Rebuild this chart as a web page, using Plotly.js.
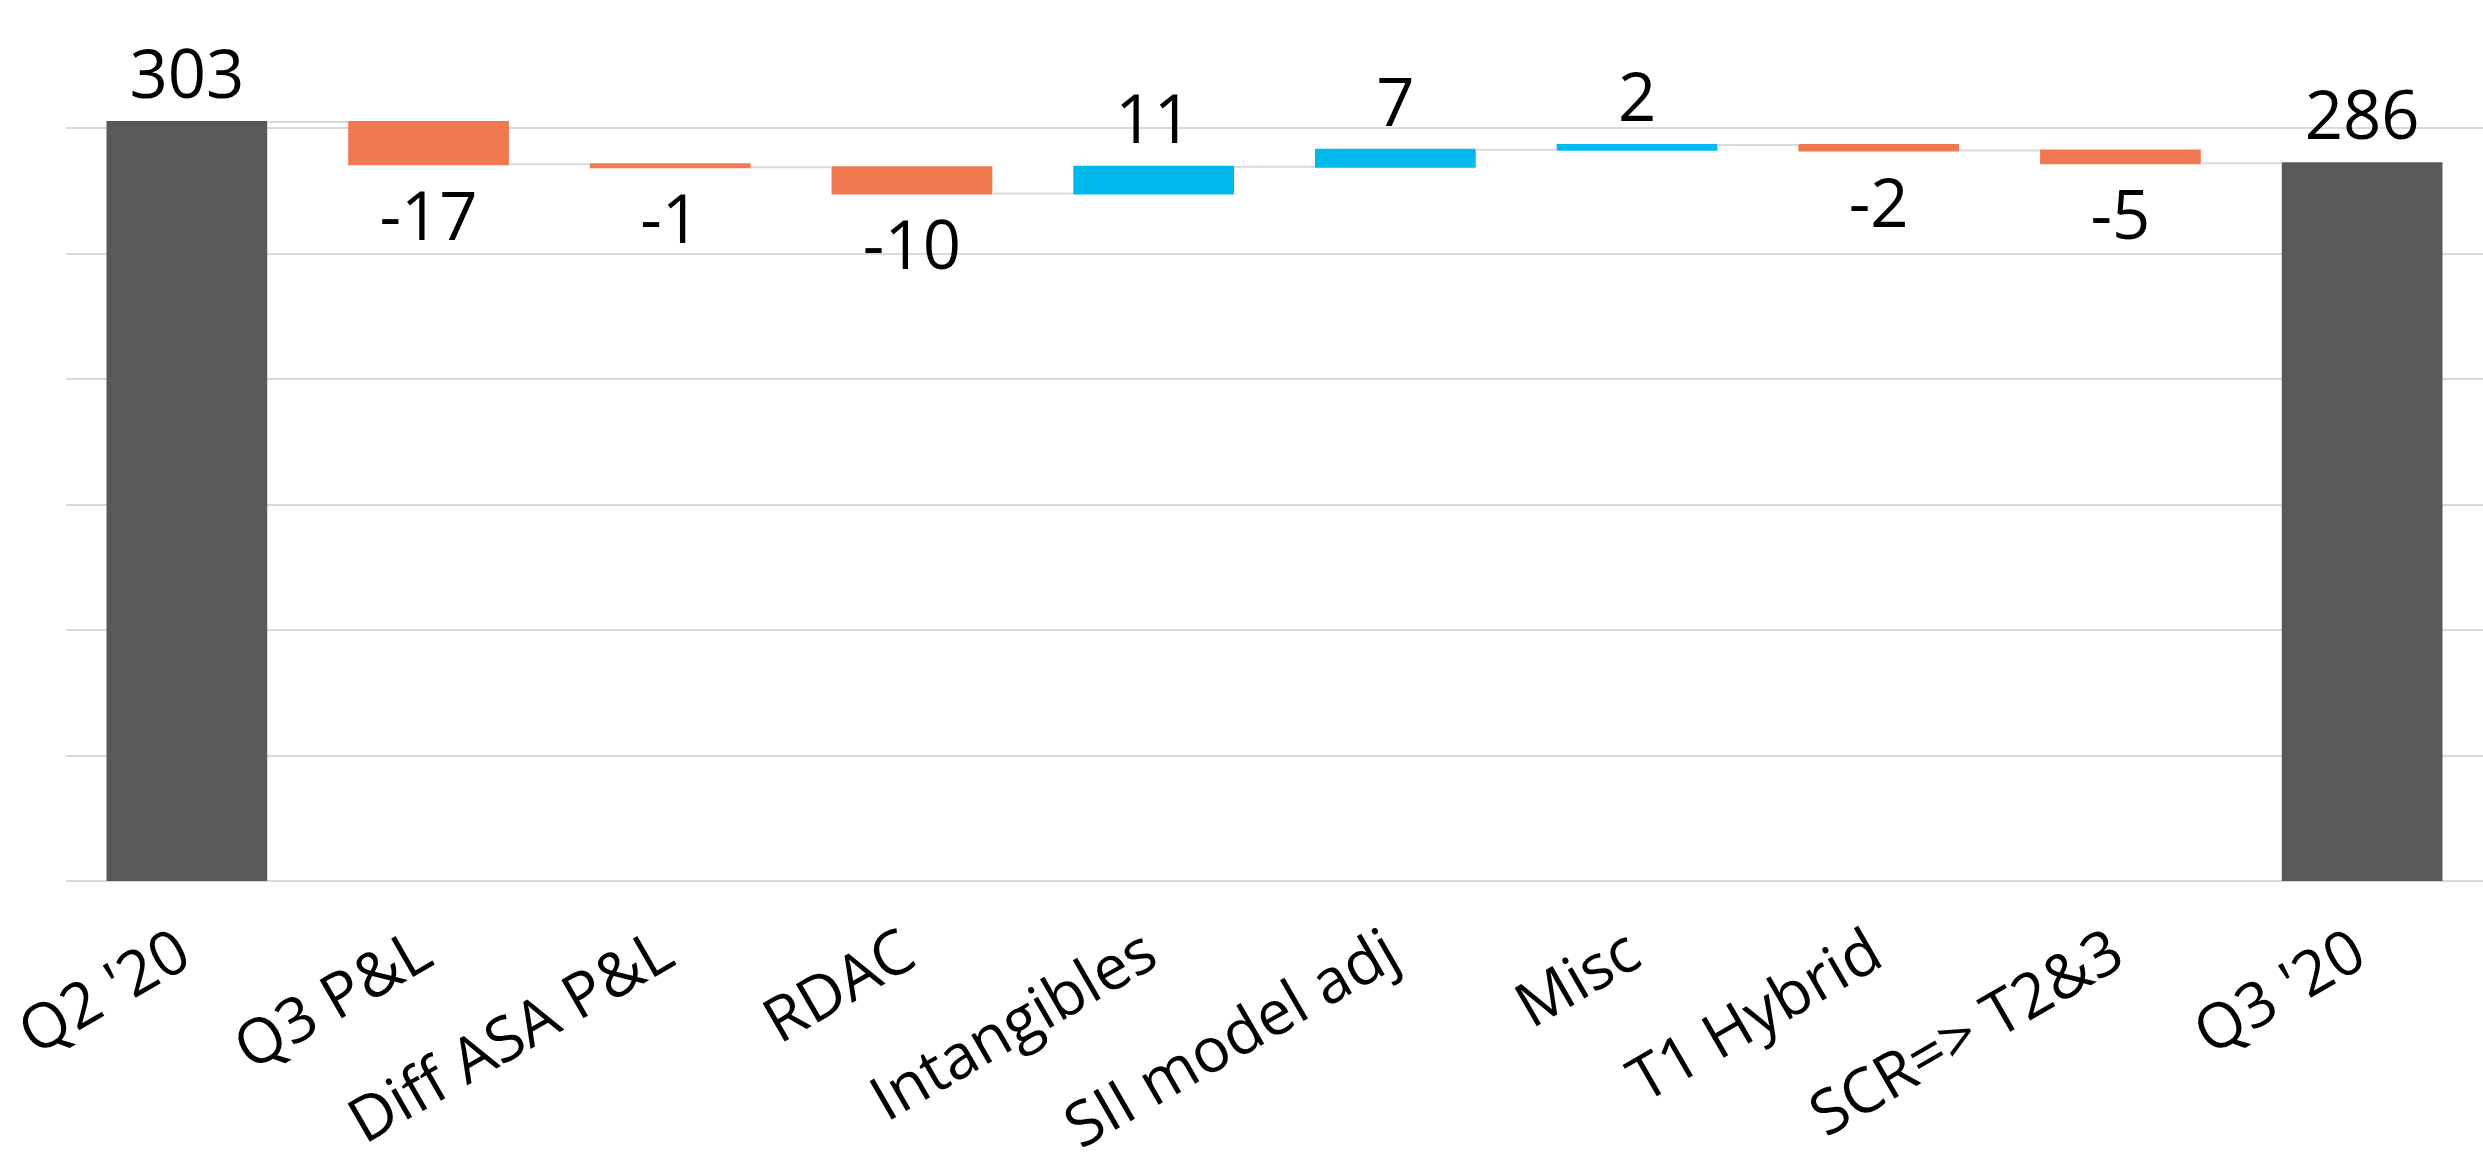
<!DOCTYPE html>
<html>
<head>
<meta charset="utf-8">
<script src="https://cdn.plot.ly/plotly-3.0.1.min.js"></script>
<style>
  html, body { margin: 0; padding: 0; background: #ffffff; }
  #chart { width: 2483px; height: 1167px; }
</style>
</head>
<body>
<div id="chart"></div>
<script>
// ---- data ----
const categories = ["Q2 '20", "Q3 P&L", "Diff ASA P&L", "RDAC", "Intangibles",
                    "SII model adj", "Misc", "T1 Hybrid", "SCR=> T2&3", "Q3 '20"];
const values   = [302.6, -16.9, -1.2, -10.4, 10.6, 6.8, 1.9, -2.2, -5.1, 0];
const measures = ["absolute", "relative", "relative", "relative", "relative",
                  "relative", "relative", "relative", "relative", "total"];

// labels derived from the data (totals show running sum)
let running = 0;
const labels = values.map((v, i) => {
  if (measures[i] === "absolute") { running = v; return String(Math.round(v)); }
  if (measures[i] === "total") { return String(Math.round(running)); }
  running += v;
  return String(Math.round(v));
});

const trace = {
  type: "waterfall",
  x: categories,
  y: values,
  measure: measures,
  text: labels,
  textposition: "outside",
  textfont: { family: "Open Sans, sans-serif", size: 67, color: "#000000" },
  constraintext: "none",
  cliponaxis: false,
  hoverinfo: "skip",
  connector: { mode: "between", line: { color: "#d9d9d9", width: 2 } },
  increasing: { marker: { color: "#00B9EC" } },
  decreasing: { marker: { color: "#F07850" } },
  totals: { marker: { color: "#595959" } }
};

const layout = {
  width: 2483,
  height: 1167,
  margin: { l: 66, r: 0, t: 3, b: 286, pad: 0 },
  paper_bgcolor: "#ffffff",
  plot_bgcolor: "#ffffff",
  showlegend: false,
  waterfallgap: 0.335,
  font: { family: "Open Sans, sans-serif", color: "#000000" },
  xaxis: {
    type: "category",
    tickangle: -30,
    tickfont: { family: "Open Sans, sans-serif", size: 62, color: "#000000" },
    ticklabelstandoff: 24,
    ticklabelshift: -8,
    showgrid: false,
    showline: false,
    ticks: "",
    automargin: false
  },
  yaxis: {
    range: [0, 350],
    dtick: 50,
    tick0: 0,
    showticklabels: false,
    ticks: "",
    showgrid: true,
    gridcolor: "#d9d9d9",
    gridwidth: 2,
    zeroline: true,
    zerolinecolor: "#d9d9d9",
    zerolinewidth: 2,
    showline: false,
    automargin: false
  }
};

Plotly.newPlot("chart", [trace], layout, { displayModeBar: false, staticPlot: true });
</script>
</body>
</html>
